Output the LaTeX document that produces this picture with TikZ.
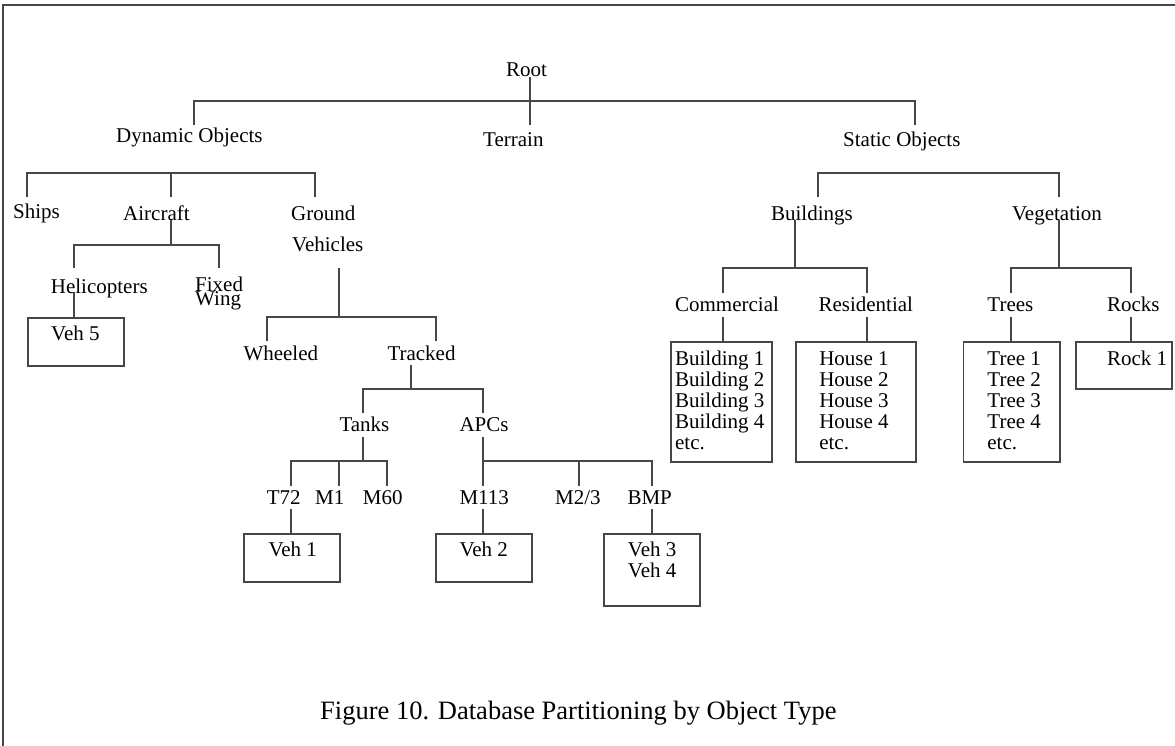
\documentclass[tikz,border=0pt]{standalone}
\usepackage{fontspec}
\setmainfont{Liberation Serif}
\begin{document}
\begin{tikzpicture}[x=1pt,y=-1pt,
  lbl/.style={inner sep=0pt, anchor=base west, font=\fontsize{21}{21}\selectfont, text=black},
  captxt/.style={inner sep=0pt, anchor=base west, font=\fontsize{26.5}{26.5}\selectfont, text=black},
  ln/.style={line width=1.8pt, draw=black!72},
  boxw/.style={draw=black!72, line width=1.8pt, inner sep=0pt, anchor=north west}]
\useasboundingbox (0,0) rectangle (1175,746);
% frame
\coordinate (fb) at (3,746);
\coordinate (ftl) at (3,5);
\coordinate (ftr) at (1175,5);
\draw[ln] (fb) -- (ftl) -- (ftr);

% ---------- boxes ----------
\node[boxw, minimum width=96.6pt, minimum height=48.3pt] (bveh5) at (26.7,316.7) {};
\node[boxw, minimum width=96.3pt, minimum height=47.7pt] (bveh1) at (242.7,533.3) {};
\node[boxw, minimum width=96pt, minimum height=47.7pt] (bveh2) at (435,533.3) {};
\node[boxw, minimum width=95.7pt, minimum height=71.7pt] (bveh34) at (603.3,533.3) {};
\node[boxw, minimum width=100.9pt, minimum height=120pt] (bcom) at (670,341) {};
\node[boxw, minimum width=119.9pt, minimum height=120pt] (bres) at (795.2,341) {};
\node[boxw, minimum width=96.5pt, minimum height=120pt] (btree) at (962.5,341) {};
\node[boxw, minimum width=95.6pt, minimum height=47.3pt] (brock) at (1075.3,341) {};

% ---------- labels ----------
\node[lbl] (root) at (506,77) {Root};
\node[lbl] (dyn) at (116,143) {Dynamic Objects};
\node[lbl] (ter) at (483,147) {Terrain};
\node[lbl] (sta) at (843,147) {Static Objects};
\node[lbl] (ships) at (13,218.3) {Ships};
\node[lbl] (air) at (123,220.7) {Aircraft};
\node[lbl] (gr1) at (291,220.7) {Ground};
\node[lbl] (gr2) at (292,251.7) {Vehicles};
\node[lbl] (heli) at (50.7,293.3) {Helicopters};
\node[lbl] (fix1) at (195,291.7) {Fixed};
\node[lbl] (fix2) at (195,305) {Wing};
\node[lbl] (veh5) at (51,340.7) {Veh 5};
\node[lbl] (wheel) at (243.3,360) {Wheeled};
\node[lbl] (track) at (387.3,360) {Tracked};
\node[lbl] (tanks) at (339.3,431.7) {Tanks};
\node[lbl] (apcs) at (459.3,431.7) {APCs};
\node[lbl] (t72) at (266.7,504) {T72};
\node[lbl] (m1) at (315,504) {M1};
\node[lbl] (m60) at (362.7,504) {M60};
\node[lbl] (m113) at (459.3,504) {M113};
\node[lbl] (m23) at (555,504) {M2/3};
\node[lbl] (bmp) at (627.3,504) {BMP};
\node[lbl] (veh1) at (268.3,556.7) {Veh 1};
\node[lbl] (veh2) at (459.3,556.7) {Veh 2};
\node[lbl] (veh3) at (627.7,556.7) {Veh 3};
\node[lbl] (veh4) at (627.7,577.7) {Veh 4};
\node[lbl] (bld) at (770.9,220.7) {Buildings};
\node[lbl] (veg) at (1011.9,220.7) {Vegetation};
\node[lbl] (com) at (674.9,311.7) {Commercial};
\node[lbl] (res) at (818.3,311.7) {Residential};
\node[lbl] (trees) at (987.2,311.7) {Trees};
\node[lbl] (rocks) at (1106.8,311.7) {Rocks};
\node[lbl] (c1) at (674.9,365) {Building 1};
\node[lbl] (c2) at (674.9,386) {Building 2};
\node[lbl] (c3) at (674.9,407) {Building 3};
\node[lbl] (c4) at (674.9,428) {Building 4};
\node[lbl] (c5) at (674.9,449) {etc.};
\node[lbl] (h1) at (819.1,365) {House 1};
\node[lbl] (h2) at (819.1,386) {House 2};
\node[lbl] (h3) at (819.1,407) {House 3};
\node[lbl] (h4) at (819.1,428) {House 4};
\node[lbl] (h5) at (819.1,449) {etc.};
\node[lbl] (tr1) at (987.2,365) {Tree 1};
\node[lbl] (tr2) at (987.2,386) {Tree 2};
\node[lbl] (tr3) at (987.2,407) {Tree 3};
\node[lbl] (tr4) at (987.2,428) {Tree 4};
\node[lbl] (tr5) at (987.2,449) {etc.};
\node[lbl] (rock1) at (1106.8,365) {Rock 1};
\node[captxt] (caption) at (320,719) {Figure 10. Database Partitioning by Object Type};

% ---------- connectors ----------
% root
\coordinate (rootA) at (530,77);
\coordinate (rootB) at (530,125);
\coordinate (dynT) at (194,125);
\coordinate (staT) at (915,125);
\coordinate (rootY) at (0,100.7);
\draw[ln] (rootA) -- (rootB);
\draw[ln] (dynT) -- (dynT |- rootY) -- (staT |- rootY) -- (staT);
% dynamic objects
\coordinate (shipT) at (26.7,196.7);
\coordinate (airT) at (171,196.7);
\coordinate (grT) at (315,196.7);
\coordinate (dynY) at (0,172.7);
\draw[ln] (shipT) -- (shipT |- dynY) -- (grT |- dynY) -- (grT);
\draw[ln] (airT |- dynY) -- (airT);
% aircraft
\coordinate (airA) at (171,220);
\coordinate (airY) at (0,245);
\coordinate (heliT) at (74.3,268.3);
\coordinate (fixT) at (219,268.3);
\draw[ln] (airA) -- (airA |- airY);
\draw[ln] (heliT) -- (heliT |- airY) -- (fixT |- airY) -- (fixT);
% helicopters -> veh 5
\coordinate (heliA) at (74.3,291.7);
\draw[ln] (heliA) -- (heliA |- bveh5.north);
% ground vehicles
\coordinate (grA) at (339,268.3);
\coordinate (grY) at (0,316.7);
\coordinate (whT) at (266.7,341);
\coordinate (trT) at (435.7,341);
\draw[ln] (grA) -- (grA |- grY);
\draw[ln] (whT) -- (whT |- grY) -- (trT |- grY) -- (trT);
% tracked
\coordinate (trA) at (411,365);
\coordinate (trY) at (0,388.7);
\coordinate (tkT) at (362.7,413.3);
\coordinate (apT) at (483.3,413.3);
\draw[ln] (trA) -- (trA |- trY);
\draw[ln] (tkT) -- (tkT |- trY) -- (apT |- trY) -- (apT);
% tanks
\coordinate (tkA) at (362.7,436.7);
\coordinate (tkY) at (0,461);
\coordinate (t72T) at (290.7,486);
\coordinate (m1T) at (339,486);
\coordinate (m60T) at (387.3,486);
\draw[ln] (tkA) -- (tkA |- tkY);
\draw[ln] (t72T) -- (t72T |- tkY) -- (m60T |- tkY) -- (m60T);
\draw[ln] (m1T |- tkY) -- (m1T);
% apcs
\coordinate (apA) at (483.3,436.7);
\coordinate (m113T) at (483.3,486);
\coordinate (m23T) at (579.3,486);
\coordinate (bmpT) at (651.7,486);
\draw[ln] (apA) -- (m113T);
\draw[ln] (apA |- tkY) -- (bmpT |- tkY) -- (bmpT);
\draw[ln] (m23T |- tkY) -- (m23T);
% leaves -> boxes
\coordinate (t72A) at (290.7,509.3);
\coordinate (m113A) at (483.3,509.3);
\coordinate (bmpA) at (651.7,509.3);
\draw[ln] (t72A) -- (t72A |- bveh1.north);
\draw[ln] (m113A) -- (m113A |- bveh2.north);
\draw[ln] (bmpA) -- (bmpA |- bveh34.north);
% static objects
\coordinate (stY) at (0,172.7);
\coordinate (bldT) at (818.3,197.3);
\coordinate (vegT) at (1059,197.3);
\draw[ln] (bldT) -- (bldT |- stY) -- (vegT |- stY) -- (vegT);
% buildings
\coordinate (bldA) at (795.2,220);
\coordinate (bldY) at (0,268.3);
\coordinate (comT) at (722.7,293.3);
\coordinate (resT) at (866.9,293.3);
\draw[ln] (bldA) -- (bldA |- bldY);
\draw[ln] (comT) -- (comT |- bldY) -- (resT |- bldY) -- (resT);
% vegetation
\coordinate (vegA) at (1059,220);
\coordinate (treT) at (1010.7,293.3);
\coordinate (rocT) at (1131,293.3);
\draw[ln] (vegA) -- (vegA |- bldY);
\draw[ln] (treT) -- (treT |- bldY) -- (rocT |- bldY) -- (rocT);
% categories -> boxes
\coordinate (comA) at (722.7,316.7);
\coordinate (resA) at (866.9,316.7);
\coordinate (treA) at (1010.7,316.7);
\coordinate (rocA) at (1131,316.7);
\draw[ln] (comA) -- (comA |- bcom.north);
\draw[ln] (resA) -- (resA |- bres.north);
\draw[ln] (treA) -- (treA |- btree.north);
\draw[ln] (rocA) -- (rocA |- brock.north);
\end{tikzpicture}
\end{document}
